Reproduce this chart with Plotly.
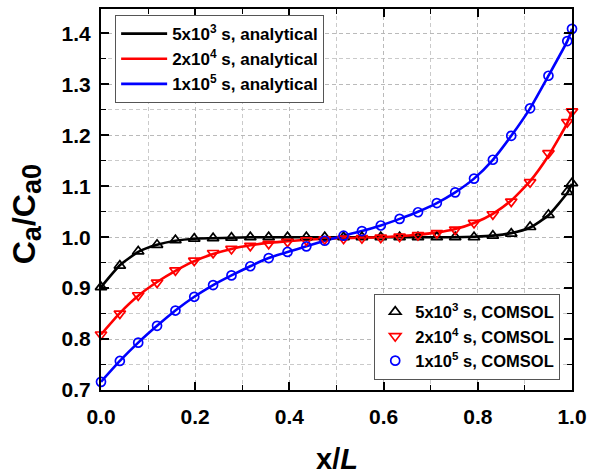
import plotly.graph_objects as go

# ---- data ----
x_pts = [0.0, 0.04, 0.079, 0.119, 0.158, 0.198, 0.238, 0.277, 0.317, 0.356, 0.396, 0.436, 0.475,
         0.515, 0.554, 0.594, 0.634, 0.673, 0.713, 0.752, 0.792, 0.832, 0.871, 0.911, 0.950, 0.990, 1.0]

black_comsol = [0.902, 0.944, 0.972, 0.985, 0.994, 0.997, 0.998, 0.999, 1.0, 1.0, 1.0, 1.0, 1.0,
                1.0, 1.0, 1.0, 1.0, 1.0, 1.0, 1.0, 1.0, 1.003, 1.007, 1.020, 1.044, 1.089, 1.106]
red_comsol = [0.809, 0.850, 0.886, 0.911, 0.935, 0.954, 0.969, 0.977, 0.983, 0.987, 0.991, 0.994, 0.996,
              0.997, 0.998, 0.999, 1.001, 1.004, 1.008, 1.015, 1.028, 1.045, 1.070, 1.108, 1.165, 1.226, 1.247]
blue_comsol = [0.716, 0.757, 0.793, 0.826, 0.856, 0.883, 0.906, 0.925, 0.943, 0.959, 0.971, 0.982, 0.993,
               1.003, 1.012, 1.023, 1.036, 1.049, 1.067, 1.088, 1.115, 1.152, 1.199, 1.253, 1.317, 1.385, 1.409]

black_analytical = [0.902, 0.945, 0.971, 0.985, 0.993, 0.997, 0.998, 0.999, 1.0, 1.0, 1.0, 1.0, 1.0,
                    1.0, 1.0, 1.0, 1.0, 1.0, 1.0, 1.0, 1.001, 1.003, 1.008, 1.019, 1.043, 1.087, 1.105]
red_analytical = [0.809, 0.851, 0.885, 0.912, 0.934, 0.953, 0.967, 0.977, 0.984, 0.989, 0.992, 0.995, 0.997,
                  0.998, 0.999, 1.0, 1.002, 1.005, 1.009, 1.016, 1.028, 1.046, 1.072, 1.110, 1.160, 1.224, 1.247]
blue_analytical = [0.716, 0.757, 0.793, 0.826, 0.856, 0.883, 0.906, 0.925, 0.943, 0.959, 0.971, 0.982, 0.993,
                   1.003, 1.012, 1.023, 1.036, 1.050, 1.067, 1.088, 1.115, 1.152, 1.199, 1.253, 1.317, 1.385, 1.409]

names_analytical = ["5x10<sup>3</sup> s, analytical", "2x10<sup>4</sup> s, analytical", "1x10<sup>5</sup> s, analytical"]
names_comsol = ["5x10<sup>3</sup> s, COMSOL", "2x10<sup>4</sup> s, COMSOL", "1x10<sup>5</sup> s, COMSOL"]
colors = ["#000000", "#ff0000", "#0000ff"]
symbols = ["triangle-up-open", "triangle-down-open", "circle-open"]
marker_sizes = [10, 10, 9]

x_ticks = [0.0, 0.2, 0.4, 0.6, 0.8, 1.0]
x_ticklabels = ["0.0", "0.2", "0.4", "0.6", "0.8", "1.0"]
y_ticks = [0.7, 0.8, 0.9, 1.0, 1.1, 1.2, 1.3, 1.4]
y_ticklabels = ["0.7", "0.8", "0.9", "1.0", "1.1", "1.2", "1.3", "1.4"]

x_title = "<b>x/<i>L</i></b>"
y_title = "<b>C<sub><span style='font-size:27px'>a</span></sub>/C<sub><span style='font-size:27px'>a0</span></sub></b>"

FONT = "Liberation Sans, Arial, sans-serif"

fig = go.Figure()

for name, col, ys in zip(names_analytical, colors, [black_analytical, red_analytical, blue_analytical]):
    fig.add_trace(go.Scatter(x=x_pts, y=ys, mode="lines", name="<b>" + name + "</b>",
                             line=dict(color=col, width=2.6, shape="spline", smoothing=0.5),
                             cliponaxis=False, legend="legend"))

for name, col, sym, ms, ys in zip(names_comsol, colors, symbols, marker_sizes, [black_comsol, red_comsol, blue_comsol]):
    fig.add_trace(go.Scatter(x=x_pts, y=ys, mode="markers", name="<b>" + name + "</b>",
                             marker=dict(symbol=sym, size=ms, color=col, line=dict(color=col, width=1.7)),
                             cliponaxis=False, legend="legend2"))

grid = "rgba(180,180,180,0.7)"
fig.update_layout(
    width=590, height=474,
    margin=dict(l=101, r=18, t=9, b=83.5, autoexpand=False),
    paper_bgcolor="white", plot_bgcolor="white",
    font=dict(family=FONT, color="black"),
    showlegend=True,
    legend=dict(x=0.03, y=0.984, xanchor="left", yanchor="top",
                bgcolor="white", bordercolor="#555555", borderwidth=1,
                font=dict(size=17, family=FONT, color="black"),
                itemwidth=46, tracegroupgap=0),
    legend2=dict(x=0.975, y=0.0275, xanchor="right", yanchor="bottom",
                 bgcolor="white", bordercolor="#555555", borderwidth=1,
                 font=dict(size=16.5, family=FONT, color="black"),
                 itemwidth=30),
    xaxis=dict(range=[0, 1], tickmode="array", tickvals=x_ticks, ticktext=x_ticklabels,
               ticks="inside", ticklen=8, tickwidth=1.5, tickcolor="black",
               showline=True, linecolor="black", linewidth=2, mirror="ticks",
               showgrid=True, gridcolor=grid, gridwidth=1, griddash="4px,3px",
               zeroline=False, ticklabelstandoff=7, automargin=False,
               tickfont=dict(size=21, family=FONT, color="black", weight="bold"),
               minor=dict(dtick=0.1, tick0=0, ticks="inside", ticklen=5, tickwidth=1.2, tickcolor="black",
                          showgrid=True, gridcolor=grid, gridwidth=1, griddash="4px,3px")),
    yaxis=dict(range=[0.7, 1.448], tickmode="array", tickvals=y_ticks, ticktext=y_ticklabels,
               ticks="inside", ticklen=8, tickwidth=1.5, tickcolor="black",
               showline=True, linecolor="black", linewidth=2, mirror="ticks",
               showgrid=True, gridcolor=grid, gridwidth=1, griddash="4px,3px",
               zeroline=False, ticklabelstandoff=4, automargin=False,
               tickfont=dict(size=21, family=FONT, color="black", weight="bold"),
               minor=dict(dtick=0.05, tick0=0.7, ticks="inside", ticklen=5, tickwidth=1.2, tickcolor="black",
                          showgrid=True, gridcolor=grid, gridwidth=1, griddash="4px,3px")),
    annotations=[
        dict(text=x_title, xref="paper", yref="paper", x=0.5, y=-0.181, xanchor="center", yanchor="middle",
             showarrow=False, font=dict(size=29, family=FONT, color="black")),
        dict(text=y_title, xref="paper", yref="paper", x=-0.207, y=0.46, xanchor="left", yanchor="middle",
             textangle=-90, showarrow=False, font=dict(size=32, family=FONT, color="black")),
    ],
)

# remove the default page margin so the 590x474 figure fills the window exactly
fig.write_html("out.html", config={"displayModeBar": False},
               post_script="document.body.style.margin='0';document.body.style.overflow='hidden';")
